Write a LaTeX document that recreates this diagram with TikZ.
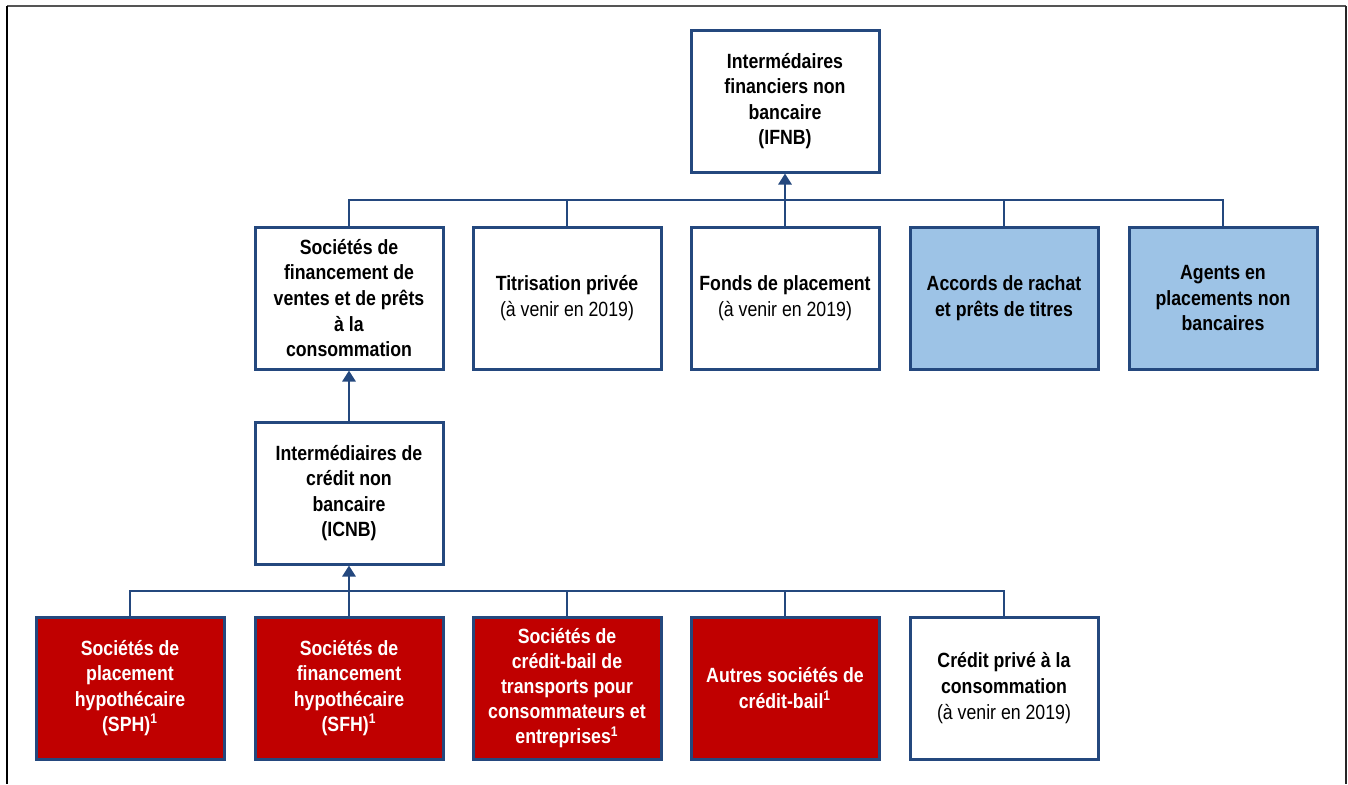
\documentclass[tikz,border=0pt]{standalone}
\usepackage{fontspec}
\setmainfont[FakeStretch=0.86]{Liberation Sans}
\usepackage{tikz}
\usetikzlibrary{arrows.meta}

\definecolor{boxblue}{RGB}{36,72,126}
\definecolor{boxred}{RGB}{192,0,0}
\definecolor{lightblue}{RGB}{157,195,230}
\definecolor{framegray}{RGB}{85,85,85}

\begin{document}
\begin{tikzpicture}[x=0.5pt,y=-0.5pt,>={Triangle[width=6.5pt,length=5.5pt]},
				main node/.style={rectangle,draw=boxblue,line width=1.5pt,minimum width=94pt,minimum height=71pt,
					inner sep=2pt,align=center,font=\fontsize{10.3}{12.8}\selectfont},
				white node/.style={main node,fill=white},
				bold node/.style={main node,fill=white,font=\fontsize{10.3}{12.8}\selectfont\bfseries},
				red node/.style={main node,fill=boxred,text=white,font=\fontsize{10.3}{12.6}\selectfont\bfseries},
				blue node/.style={main node,fill=lightblue,font=\fontsize{10.3}{12.8}\selectfont\bfseries},
				link/.style={draw=boxblue,line width=1.4pt}]
				
				\useasboundingbox (0,0) rectangle (1348,784);
				\draw[framegray,line width=1.2pt] (7,6) -- (1346,6);
				\draw[black,line width=0.8pt] (7,6) -- (7,784);
				\draw[black!85,line width=1pt] (1346,6) -- (1346,784);
				
				\node[bold node] (ifnb) at (785,101) {Intermédaires\\financiers non\\bancaire\\(IFNB)};
				
				\node[bold node] (sfv) at (349,298) {Sociétés de\\financement de\\ventes et de prêts\\à la\\consommation};
				\node[white node] (tit) at (567,298) {\textbf{Titrisation privée}\\(à venir en 2019)};
				\node[white node] (fonds) at (785,298) {\textbf{Fonds de placement}\\(à venir en 2019)};
				\node[blue node] (accords) at (1004,298) {Accords de rachat\\et prêts de titres};
				\node[blue node] (agents) at (1223,298) {Agents en\\placements non\\bancaires};
				
				\node[bold node] (icnb) at (349,493) {Intermédiaires de\\crédit non\\bancaire\\(ICNB)};
				
				\node[red node] (sph) at (130,688) {Sociétés de\\placement\\hypothécaire\\(SPH)\textsuperscript{\scriptsize 1}};
				\node[red node] (sfh) at (349,688) {Sociétés de\\financement\\hypothécaire\\(SFH)\textsuperscript{\scriptsize 1}};
				\node[red node] (trans) at (567,688) {Sociétés de\\crédit-bail de\\transports pour\\consommateurs et\\entreprises\textsuperscript{\scriptsize 1}};
				\node[red node] (autres) at (785,688) {Autres sociétés de\\crédit-bail\textsuperscript{\scriptsize 1}};
				\node[white node] (prive) at (1004,688) {\textbf{Crédit privé à la}\\\textbf{consommation}\\(à venir en 2019)};
				
				\coordinate (bar1) at (785,200);
				\coordinate (bar2) at (349,591);
				
				% upper level
				\draw[link] (sfv.north) |- (bar1) -| (agents.north);
				\draw[link] (tit.north) -- (tit.north |- bar1);
				\draw[link] (accords.north) -- (accords.north |- bar1);
				\draw[link,->] (fonds.north) -- (ifnb.south);
				\draw[link,->] (icnb.north) -- (sfv.south);
				
				% lower level
				\draw[link] (sph.north) |- (bar2) -| (prive.north);
				\draw[link] (trans.north) -- (trans.north |- bar2);
				\draw[link] (autres.north) -- (autres.north |- bar2);
				\draw[link,->] (sfh.north) -- (icnb.south);
				
				\end{tikzpicture}
\end{document}
